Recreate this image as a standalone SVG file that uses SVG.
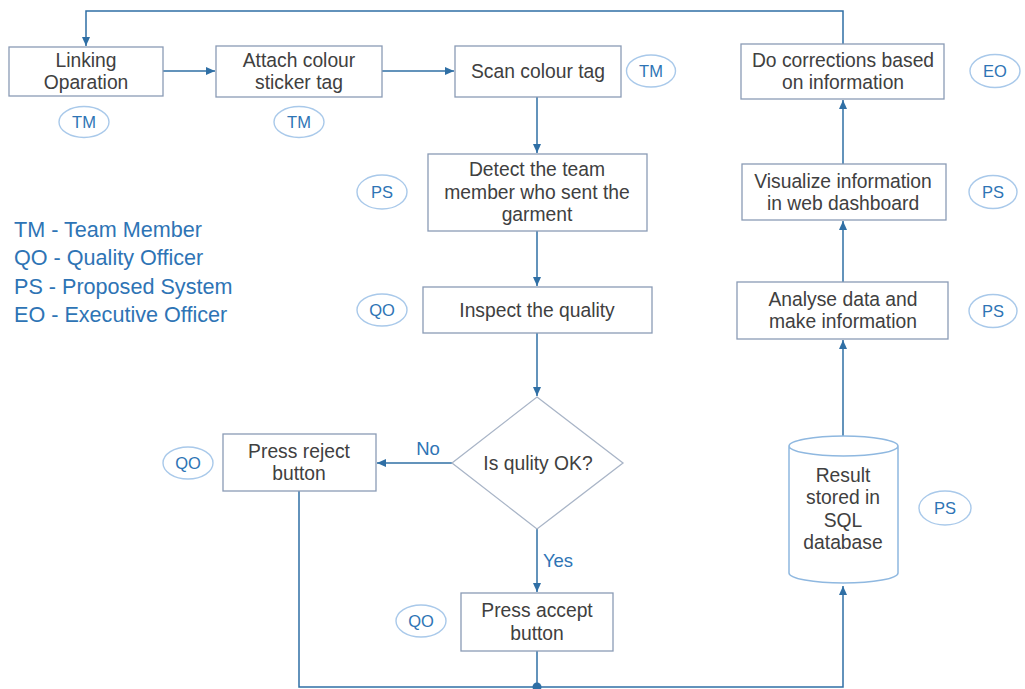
<svg xmlns="http://www.w3.org/2000/svg" width="1025" height="689" viewBox="0 0 1025 689">
<defs>
<style>
.box{fill:#ffffff;stroke:#8a9bb5;stroke-width:1.3}
.dia{fill:#ffffff;stroke:#a9b5c7;stroke-width:1.3}
.cyl{fill:#ffffff;stroke:#8fb8e0;stroke-width:1.5}
.t{font-family:"Liberation Sans",Arial,sans-serif;font-size:19.3px;fill:#404040;text-anchor:middle}
.role{fill:#ffffff;stroke:#a9c9ea;stroke-width:1.4}
.rt{font-family:"Liberation Sans",Arial,sans-serif;font-size:16.5px;fill:#2e74b5;text-anchor:middle}
.lg{font-family:"Liberation Sans",Arial,sans-serif;font-size:21.6px;fill:#2e74b5}
.lbl{font-family:"Liberation Sans",Arial,sans-serif;font-size:18.5px;fill:#2e74b5}
.c{fill:none;stroke:#2f6fa5;stroke-width:1.5}
</style>
<marker id="ah" markerWidth="10" markerHeight="8" refX="9" refY="4" orient="auto" markerUnits="userSpaceOnUse">
<path d="M0,0 L9,4 L0,8 Z" fill="#2f6fa5"/>
</marker>
</defs>
<rect width="1025" height="689" fill="#ffffff"/>

<g id="connectors">
<polyline class="c" points="843,44 843,11 86,11 86,46" marker-end="url(#ah)"/>
<line class="c" x1="163" y1="71" x2="215" y2="71" marker-end="url(#ah)"/>
<line class="c" x1="382" y1="71" x2="454" y2="71" marker-end="url(#ah)"/>
<line class="c" x1="537" y1="97" x2="537" y2="153" marker-end="url(#ah)"/>
<line class="c" x1="537" y1="231" x2="537" y2="286" marker-end="url(#ah)"/>
<line class="c" x1="537" y1="333" x2="537" y2="396" marker-end="url(#ah)"/>
<line class="c" x1="452" y1="463" x2="377" y2="463" marker-end="url(#ah)"/>
<line class="c" x1="537" y1="529" x2="537" y2="592" marker-end="url(#ah)"/>
<polyline class="c" points="299,491 299,687 843,687 843,586" marker-end="url(#ah)"/>
<line class="c" x1="537" y1="651" x2="537" y2="687"/>
<circle cx="537" cy="687" r="4.5" fill="#2f6fa5"/>
<line class="c" x1="843" y1="436" x2="843" y2="340" marker-end="url(#ah)"/>
<line class="c" x1="843" y1="282" x2="843" y2="221" marker-end="url(#ah)"/>
<line class="c" x1="843" y1="164" x2="843" y2="100" marker-end="url(#ah)"/>
<text class="lbl" x="428" y="455" text-anchor="middle">No</text>
<text class="lbl" x="558" y="567" text-anchor="middle">Yes</text>
</g>

<g id="linking">
<rect class="box" x="9" y="47" width="154" height="49"/>
<text class="t" x="86" y="67">Linking</text>
<text class="t" x="86" y="89">Oparation</text>
<ellipse class="role" cx="84" cy="122" rx="25" ry="15.5"/>
<text class="rt" x="84" y="128">TM</text>
</g>

<g id="attach">
<rect class="box" x="216" y="46" width="166" height="51"/>
<text class="t" x="299" y="67">Attach colour</text>
<text class="t" x="299" y="89">sticker tag</text>
<ellipse class="role" cx="299" cy="122" rx="25" ry="15.5"/>
<text class="rt" x="299" y="128">TM</text>
</g>

<g id="scan">
<rect class="box" x="455" y="46" width="166" height="51"/>
<text class="t" x="538" y="78">Scan colour tag</text>
<ellipse class="role" cx="651" cy="71" rx="24.5" ry="16"/>
<text class="rt" x="651" y="77">TM</text>
</g>

<g id="detect">
<rect class="box" x="428" y="154" width="219" height="77"/>
<text class="t" x="537" y="176">Detect the team</text>
<text class="t" x="537" y="199">member who sent the</text>
<text class="t" x="537" y="221">garment</text>
<ellipse class="role" cx="382" cy="192" rx="25" ry="17"/>
<text class="rt" x="382" y="198">PS</text>
</g>

<g id="inspect">
<rect class="box" x="423" y="287" width="229" height="46"/>
<text class="t" x="537" y="317">Inspect the quality</text>
<ellipse class="role" cx="382" cy="310" rx="25" ry="16"/>
<text class="rt" x="382" y="316">QO</text>
</g>

<g id="decision">
<polygon class="dia" points="537,397 623,463 537,529 452,463"/>
<text class="t" x="538" y="470">Is qulity OK?</text>
</g>

<g id="reject">
<rect class="box" x="223" y="434" width="153" height="57"/>
<text class="t" x="299" y="458">Press reject</text>
<text class="t" x="299" y="480">button</text>
<ellipse class="role" cx="188" cy="463" rx="25" ry="16"/>
<text class="rt" x="188" y="469">QO</text>
</g>

<g id="accept">
<rect class="box" x="461" y="593" width="152" height="58"/>
<text class="t" x="537" y="617">Press accept</text>
<text class="t" x="537" y="640">button</text>
<ellipse class="role" cx="421" cy="621" rx="25" ry="16"/>
<text class="rt" x="421" y="627">QO</text>
</g>

<g id="database">
<path class="cyl" d="M789,446 L789,573 A54.5,10 0 0 0 898,573 L898,446 A54.5,10 0 0 0 789,446 A54.5,10 0 0 0 898,446"/>
<text class="t" x="843" y="482">Result</text>
<text class="t" x="843" y="504">stored in</text>
<text class="t" x="843" y="527">SQL</text>
<text class="t" x="843" y="549">database</text>
<ellipse class="role" cx="945" cy="508" rx="26" ry="17"/>
<text class="rt" x="945" y="514">PS</text>
</g>

<g id="analyse">
<rect class="box" x="737" y="282" width="211" height="57"/>
<text class="t" x="843" y="306">Analyse data and</text>
<text class="t" x="843" y="328">make information</text>
<ellipse class="role" cx="993" cy="311" rx="24" ry="16.5"/>
<text class="rt" x="993" y="317">PS</text>
</g>

<g id="visualize">
<rect class="box" x="742" y="164" width="204" height="56"/>
<text class="t" x="843" y="188">Visualize information</text>
<text class="t" x="843" y="210">in web dashboard</text>
<ellipse class="role" cx="993" cy="192" rx="24" ry="16.5"/>
<text class="rt" x="993" y="198">PS</text>
</g>

<g id="corrections">
<rect class="box" x="741" y="44" width="203" height="55"/>
<text class="t" x="843" y="67">Do corrections based</text>
<text class="t" x="843" y="89">on information</text>
<ellipse class="role" cx="995" cy="71" rx="25" ry="16.5"/>
<text class="rt" x="995" y="77">EO</text>
</g>

<g id="legend">
<text class="lg" x="14" y="237">TM - Team Member</text>
<text class="lg" x="14" y="265">QO - Quality Officer</text>
<text class="lg" x="14" y="294">PS - Proposed System</text>
<text class="lg" x="14" y="322">EO - Executive Officer</text>
</g>
</svg>
